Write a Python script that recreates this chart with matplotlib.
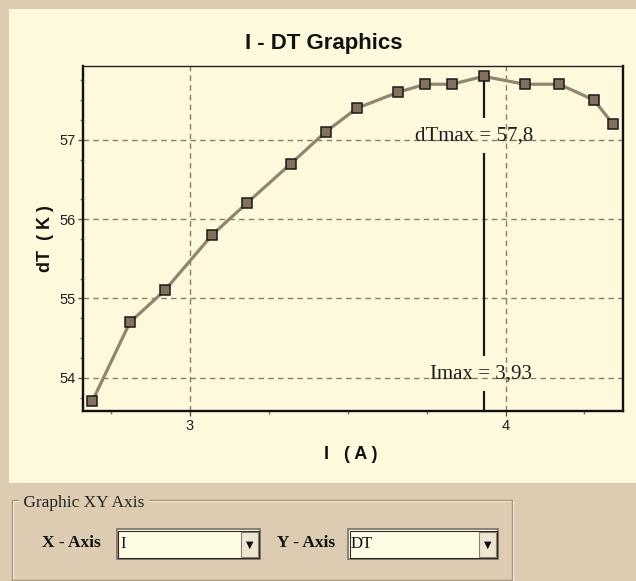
import matplotlib
matplotlib.use("Agg")
import matplotlib.pyplot as plt
from matplotlib.patches import Rectangle
from matplotlib.ticker import MultipleLocator
import numpy as np

# ---- data ----
I_vals = [2.69, 2.81, 2.92, 3.07, 3.18, 3.32, 3.43, 3.53, 3.66, 3.745, 3.83, 3.93, 4.06, 4.17, 4.28, 4.34]
dT_vals = [53.7, 54.7, 55.1, 55.8, 56.2, 56.7, 57.1, 57.4, 57.6, 57.7, 57.7, 57.8, 57.7, 57.7, 57.5, 57.2]
x_ticks = [3, 4]
y_ticks = [54, 55, 56, 57]
title = "I - DT Graphics"
x_label = "I   ( A )"
y_label = "dT  ( K )"

W, H = 636, 581
fig = plt.figure(figsize=(W / 100, H / 100), dpi=100)
fig.patch.set_facecolor("#DDCBB2")

def fx(x):
    return x / W

def fy(y):
    return 1 - y / H

def prect(x0, y0, x1, y1, **kw):
    r = Rectangle((fx(x0), fy(y1)), fx(x1) - fx(x0), fy(y0) - fy(y1),
                  transform=fig.transFigure, **kw)
    fig.add_artist(r)
    return r

cream = "#FEF8DC"
# chart panel
prect(9, 9, 637, 483, facecolor=cream, edgecolor="none", zorder=0)

# ---- axes ----
ax = fig.add_axes([fx(83), fy(411), fx(623) - fx(83), fy(66) - fy(411)])
ax.set_facecolor(cream)

ax.plot(I_vals, dT_vals, color="#938470", lw=2.3, zorder=3,
        marker="s", markersize=6.5, markerfacecolor="#82715D",
        markeredgecolor="#1a1a1a", markeredgewidth=1.1)

ax.set_xlim(2.661, 4.372)
ax.set_ylim(53.58, 57.93)
ax.set_xticks(x_ticks)
ax.set_yticks(y_ticks)
ax.xaxis.set_minor_locator(MultipleLocator(0.25))
ax.yaxis.set_minor_locator(MultipleLocator(0.25))
ax.grid(True, which="major", color="#8C7D69", lw=1.0, linestyle=(0, (4, 3)))
ax.set_axisbelow(True)

for s in ["left", "bottom", "right"]:
    ax.spines[s].set_linewidth(1.7)
    ax.spines[s].set_color("#111111")
ax.spines["top"].set_linewidth(1.0)
ax.spines["top"].set_color("#222222")

ax.tick_params(which="major", direction="out", length=3.5, width=1, color="#555555",
               labelsize=10.5, labelcolor="#222222", pad=2)
ax.tick_params(which="minor", direction="out", length=2.5, width=1, color="#777777")
for lab in ax.get_xticklabels() + ax.get_yticklabels():
    lab.set_fontfamily("Liberation Sans")

ax.set_xlabel(x_label, fontsize=13, fontweight="bold", family="Liberation Sans",
              va="center", ha="center", color="#111111")
ax.xaxis.set_label_coords(0.496, -0.1275)
ax.set_ylabel(y_label, fontsize=13, fontweight="bold", family="Liberation Sans",
              va="center", ha="center", color="#111111")
ax.yaxis.set_label_coords(-0.070, 0.5)

# ---- maximum marker ----
imax_idx = int(np.argmax(dT_vals))
Imax = I_vals[imax_idx]
dTmax = dT_vals[imax_idx]
ylo, yhi = ax.get_ylim()
lab_top_y = 57.05
lab_bot_y = 54.05
gap = 0.22
segments = [(lab_top_y + gap, dTmax), (lab_bot_y + gap, lab_top_y - gap), (ylo, lab_bot_y - gap)]
for y0, y1 in segments:
    ax.plot([Imax, Imax], [y0, y1], color="#1a1a1a", lw=1.6, zorder=2.5,
            solid_capstyle="butt")

ax.annotate("dTmax = " + f"{dTmax:.1f}".replace(".", ","), xy=(Imax, lab_top_y),
            xytext=(-6.5, 0), textcoords="offset points", ha="center", va="center",
            fontsize=15, family="Liberation Serif", color="#1e1e1e", zorder=4)
ax.annotate("Imax = " + f"{Imax:.2f}".replace(".", ","), xy=(Imax, lab_bot_y),
            xytext=(-2, 0), textcoords="offset points", ha="center", va="center",
            fontsize=15, family="Liberation Serif", color="#1e1e1e", zorder=4)

# title
fig.text(fx(324), fy(43), title, ha="center", va="center", fontsize=16,
         fontweight="bold", family="Liberation Sans", color="#111111")

# ---- bottom control group ----
prect(13, 501, 513, 581, facecolor="none", edgecolor="#FFF6E6", lw=1.0, zorder=1)
prect(12, 500, 512, 580, facecolor="none", edgecolor="#A8977E", lw=1.0, zorder=1)
fig.text(fx(19), fy(503), " Graphic XY Axis ", ha="left", va="center",
         fontsize=12.5, family="Liberation Serif", color="#222222",
         bbox=dict(facecolor="#DDCBB2", edgecolor="none", pad=0), zorder=2)

def combo(x0, x1, txt):
    y0, y1 = 529, 559
    prect(x0, y0, x1, y1, facecolor="#FFFCE6", edgecolor="#7a7062", lw=1.2, zorder=2)
    prect(x0 + 1.5, y0 + 1.5, x1 - 1, y1 - 1, facecolor="none", edgecolor="#2a2a2a", lw=0.8, zorder=2)
    prect(x1 - 19, y0 + 2.5, x1 - 2, y1 - 2.5, facecolor="#EEE6D2", edgecolor="#8a8070", lw=0.8, zorder=3)
    fig.text(fx(x1 - 10.5), fy(545), "\u25BC", ha="center", va="center", fontsize=7,
             family="DejaVu Sans", color="#111111", zorder=4)
    fig.text(fx(x0 + 3), fy(544), txt, ha="left", va="center", fontsize=12,
             family="Liberation Serif", color="#111111", zorder=4)

fig.text(fx(42), fy(543), "X - Axis", ha="left", va="center", fontsize=12.5,
         fontweight="bold", family="Liberation Serif", color="#111111")
combo(117, 260, "I")
fig.text(fx(277), fy(543), "Y - Axis", ha="left", va="center", fontsize=12.5,
         fontweight="bold", family="Liberation Serif", color="#111111")
combo(348, 498, "DT")

fig.savefig("out.png", dpi=100, facecolor=fig.get_facecolor())
